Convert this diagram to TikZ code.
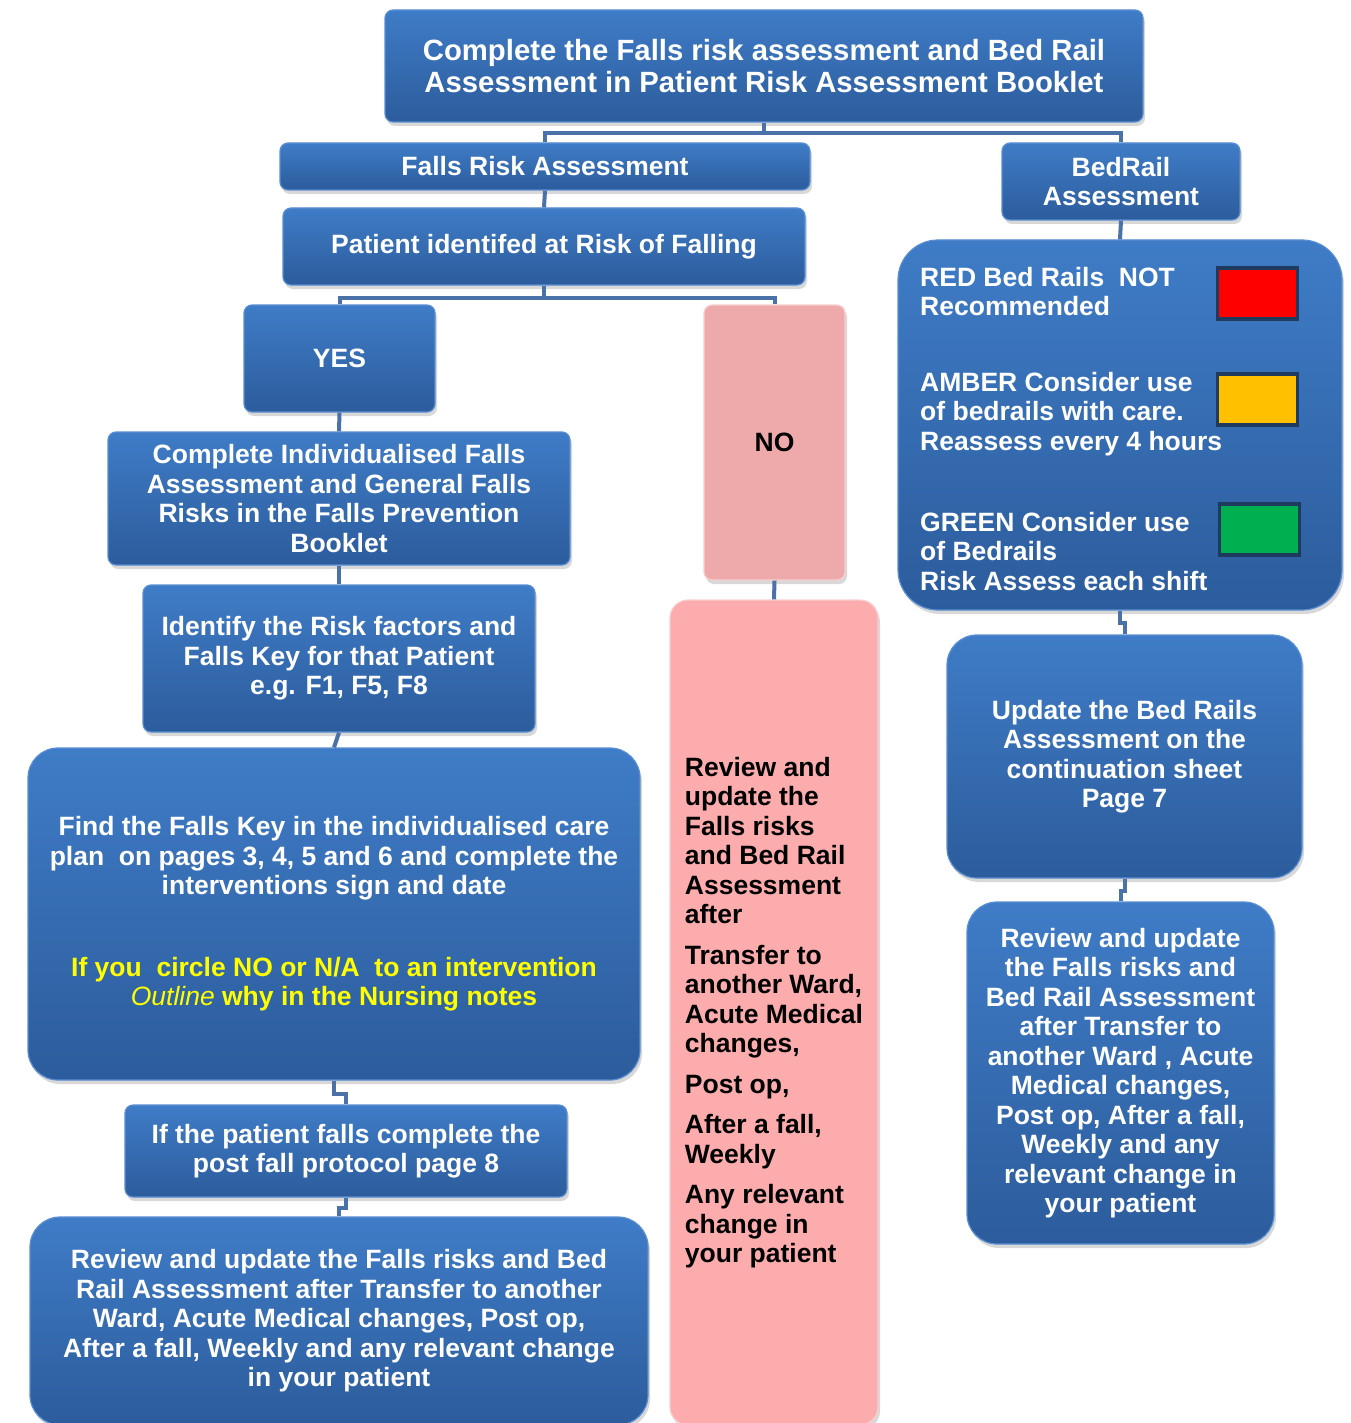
\documentclass[tikz,border=0pt]{standalone}
\usepackage{fontspec}
\setmainfont{Liberation Sans}
\usepackage{xcolor}
\usetikzlibrary{shadows,positioning}
\definecolor{fbtop}{HTML}{3F7CC7}
\definecolor{fbbot}{HTML}{2C5C9C}
\definecolor{fbedge}{HTML}{5A8ED2}
\definecolor{fnopink}{HTML}{EEAAAB}
\definecolor{fbigpink}{HTML}{FCACAD}
\definecolor{fpinkedge}{HTML}{F6CFCF}
\definecolor{flink}{HTML}{4A72A8}
\definecolor{fswedge}{HTML}{1F3A5F}
\definecolor{fred}{HTML}{FF0000}
\definecolor{famber}{HTML}{FFC000}
\definecolor{fgreen}{HTML}{00B050}
\definecolor{fyellow}{HTML}{FFFF00}

\begin{document}
\begin{tikzpicture}[
  x=1pt,y=-1pt,
  every node/.style={font=\bfseries\fontsize{26.5}{29.5}\selectfont},
  block/.style={rectangle,draw=fbedge,line width=1.2pt,rounded corners=8pt,
                top color=fbtop,bottom color=fbbot,text=white,align=center,
                inner sep=0pt,drop shadow={shadow xshift=2pt,shadow yshift=-4pt,opacity=0.3}},
  bigblock/.style={block,rounded corners=30pt},
  noblock/.style={block,top color=fnopink,bottom color=fnopink,draw=fpinkedge,text=black},
  pinkblock/.style={noblock,top color=fbigpink,bottom color=fbigpink,rounded corners=18pt},
  legtext/.style={anchor=west,align=left,text=white,inner sep=0pt},
  swatch/.style={rectangle,draw=fswedge,line width=3.5pt,minimum width=80pt,
                 minimum height=51pt,inner sep=0pt},
  link/.style={draw=flink,line width=4pt}
]
\useasboundingbox[fill=white] (0,0) rectangle (1350,1423);

%% ---- top ----
\node[block,minimum width=758pt,minimum height=112pt,
      font=\bfseries\fontsize{29.3}{32}\selectfont] (top) at (764,66)
    {Complete the Falls risk assessment and Bed Rail\\ Assessment in Patient Risk Assessment Booklet};
\node[block,minimum width=530pt,minimum height=47pt] (fra) at (545,166.5) {Falls Risk Assessment};
\node[block,minimum width=238pt,minimum height=77pt] (bed) at (1121,181.5) {BedRail\\ Assessment};
\node[block,minimum width=522pt,minimum height=77pt] (pat) at (544,246.5) {Patient identifed at Risk of Falling};

%% ---- yes / no ----
\node[block,minimum width=191pt,minimum height=107pt] (yes) at (339.5,358.5) {YES};
\node[noblock,minimum width=141pt,minimum height=275pt] (no) at (774.5,442.5) {NO};

%% ---- left column ----
\node[block,minimum width=462pt,minimum height=133pt] (ind) at (339,498.5)
    {Complete Individualised Falls\\ Assessment and General Falls\\ Risks in the Falls Prevention\\ Booklet};
\node[block,minimum width=392pt,minimum height=147pt] (idf) at (339,658.5)
    {Identify the Risk factors and\\ Falls Key for that Patient\\ e.g. F1, F5, F8};
\node[bigblock,minimum width=612pt,minimum height=332pt] (find) at (334,914)
    {Find the Falls Key in the individualised care\\ plan\ \ on pages 3, 4, 5 and 6 and complete the\\ interventions sign and date\\[52pt]
     \color{fyellow}If you\ \ circle NO or N/A\ \ to an intervention\\
     \color{fyellow}{\mdseries\itshape Outline} why in the Nursing notes};
\node[block,minimum width=442pt,minimum height=92pt] (fall) at (346,1151)
    {If the patient falls complete the\\ post fall protocol page 8};
\node[bigblock,minimum width=618pt,minimum height=208pt] (revl) at (339,1321)
    {Review and update the Falls risks and Bed\\ Rail Assessment after Transfer to another\\ Ward, Acute Medical changes, Post op,\\ After a fall, Weekly and any relevant change\\ in your patient};

%% ---- middle column ----
\node[pinkblock,minimum width=208pt,minimum height=825pt,align=left] (revm) at (774,1012.5)
    {Review and\\ update the\\ Falls risks\\ and Bed Rail\\ Assessment\\ after\\[11pt]
     Transfer to\\ another Ward,\\ Acute Medical\\ changes,\\[11pt]
     Post op,\\[11pt]
     After a fall,\\ Weekly\\[11pt]
     Any relevant\\ change in\\ your patient};

%% ---- right column ----
\node[bigblock,rounded corners=40pt,minimum width=444pt,minimum height=370pt] (leg) at (1120,425) {};
\node[legtext] (redtxt) at (920,291.5) {RED Bed Rails\ \ NOT\\ Recommended};
\node[legtext] (ambtxt) at (920,414) {AMBER Consider use\\ of bedrails with care.\\ Reassess every 4 hours};
\node[legtext] (grntxt) at (920,551.5) {GREEN Consider use\\ of Bedrails\\ Risk Assess each shift};
\node[swatch,fill=fred] (redsw) at (1257.5,293.5) {};
\node[swatch,fill=famber] (ambsw) at (1257.5,399.5) {};
\node[swatch,fill=fgreen] (grnsw) at (1259.5,529.5) {};
\node[bigblock,minimum width=355pt,minimum height=243pt] (upd) at (1124.5,756.5)
    {Update the Bed Rails\\ Assessment on the\\ continuation sheet\\ Page 7};
\node[bigblock,minimum width=307pt,minimum height=342pt] (revr) at (1120.5,1073)
    {Review and update\\ the Falls risks and\\ Bed Rail Assessment\\ after Transfer to\\ another Ward , Acute\\ Medical changes,\\ Post op, After a fall,\\ Weekly and any\\ relevant change in\\ your patient};

%% ---- connectors ----
\draw[link] (top.south) -- ++(0,10) -| (fra.north);
\draw[link] (top.south) -- ++(0,10) -| (bed.north);
\draw[link] (fra.south) -- (pat.north);
\draw[link] (pat.south) -- ++(0,12) -| (yes.north);
\draw[link] (pat.south) -- ++(0,12) -| (no.north);
\draw[link] (yes.south) -- (ind.north);
\draw[link] (ind.south) -- (idf.north);
\draw[link] (idf.south) -- (find.north);
\draw[link] (find.south) -- ++(0,13) -| (fall.north);
\draw[link] (fall.south) -- ++(0,10) -| (revl.north);
\draw[link] (no.south) -- (revm.north);
\draw[link] (bed.south) -- (leg.north);
\draw[link] (leg.south) -- ++(0,12) -| (upd.north);
\draw[link] (upd.south) -- ++(0,12) -| (revr.north);

\end{tikzpicture}
\end{document}
